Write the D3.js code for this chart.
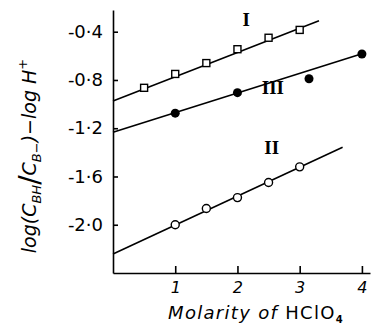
<!DOCTYPE html>
<html>
<head>
<meta charset="utf-8">
<script src="https://cdn.jsdelivr.net/npm/d3@7"></script>
<style>
  body { margin: 0; background: #fff; }
  svg { display: block; }
  .axis path, .axis line { stroke: #000; stroke-width: 1.6px; }
  .axis text { font-family: "DejaVu Sans", sans-serif; font-size: 18px; fill: #000; }
  .xax text { font-style: italic; font-size: 16px; }
</style>
</head>
<body>
<script>
// series I (open squares)
const molI = [0.5, 1, 1.5, 2, 2.5, 3];
const valI = [-0.865, -0.75, -0.66, -0.545, -0.45, -0.385];
// series II (open circles)
const molII = [1, 1.5, 2, 2.5, 3];
const valII = [-2.0, -1.865, -1.775, -1.65, -1.52];
// series III (filled circles)
const molIII = [1, 2, 3.15, 4];
const valIII = [-1.075, -0.905, -0.79, -0.585];

// straight fitted lines: [start, end] as [molarity, value]
const fitI = [[0, -0.975], [3.31, -0.31]];
const fitII = [[0, -2.242], [3.69, -1.358]];
const fitIII = [[0, -1.233], [4, -0.583]];

const xTicks = [1, 2, 3, 4];
const yTicks = [-0.4, -0.8, -1.2, -1.6, -2.0];

const width = 372, height = 328;

const x = d3.scaleLinear().domain([0, 4.13]).range([113, 370]);
const y = d3.scaleLinear().domain([-2.4, -0.22]).range([273, 10]);

const svg = d3.select("body").append("svg")
  .attr("width", width)
  .attr("height", height);

// axes, ticks point inwards
svg.append("g")
  .attr("class", "axis yax")
  .attr("transform", "translate(" + x(0) + ",0)")
  .call(d3.axisLeft(y).tickValues(yTicks).tickSizeInner(-5).tickSizeOuter(0).tickPadding(10)
    .tickFormat(d => d.toFixed(1).replace(".", "\u00b7")));

svg.append("g")
  .attr("class", "axis xax")
  .attr("transform", "translate(0," + y(-2.4) + ")")
  .call(d3.axisBottom(x).tickValues(xTicks).tickSizeInner(-7).tickSizeOuter(0).tickPadding(9)
    .tickFormat(d3.format("d")));

const line = d3.line().x(d => x(d[0])).y(d => y(d[1]));

[fitI, fitII, fitIII].forEach(f => {
  svg.append("path")
    .attr("d", line(f))
    .attr("fill", "none")
    .attr("stroke", "#000")
    .attr("stroke-width", 1.6);
});

// markers
svg.selectAll("rect.sI")
  .data(d3.zip(molI, valI))
  .enter().append("rect")
  .attr("x", d => x(d[0]) - 3.5)
  .attr("y", d => y(d[1]) - 3.5)
  .attr("width", 7).attr("height", 7)
  .attr("fill", "#fff").attr("stroke", "#000").attr("stroke-width", 1.4);

svg.selectAll("circle.sII")
  .data(d3.zip(molII, valII))
  .enter().append("circle")
  .attr("cx", d => x(d[0]))
  .attr("cy", d => y(d[1]))
  .attr("r", 4)
  .attr("fill", "#fff").attr("stroke", "#000").attr("stroke-width", 1.4);

svg.selectAll("circle.sIII")
  .data(d3.zip(molIII, valIII))
  .enter().append("circle")
  .attr("cx", d => x(d[0]))
  .attr("cy", d => y(d[1]))
  .attr("r", 4.5)
  .attr("fill", "#000");

// series labels
const lab = (t, px, py) => svg.append("text")
  .attr("x", px).attr("y", py)
  .attr("text-anchor", "middle")
  .attr("font-family", "Liberation Serif, serif")
  .attr("font-size", 19)
  .attr("font-weight", "bold")
  .text(t);
lab("I", x(2.14), y(-0.355));
lab("III", x(2.57), y(-0.92));
lab("II", x(2.55), y(-1.41));

// x axis title
const xt = svg.append("text")
  .attr("x", 256).attr("y", 319)
  .attr("text-anchor", "middle")
  .attr("font-family", "DejaVu Sans, sans-serif")
  .attr("font-size", 18)
  .attr("letter-spacing", 1.3);
xt.append("tspan").attr("font-style", "italic").text("Molarity of ");
xt.append("tspan").text("HClO");
xt.append("tspan").attr("font-size", 10).attr("dy", 4).attr("font-weight", "bold").text("4");

// y axis title
const yt = svg.append("text")
  .attr("transform", "translate(36,156) rotate(-90)")
  .attr("text-anchor", "middle")
  .attr("font-family", "DejaVu Sans, sans-serif")
  .attr("font-style", "italic")
  .attr("font-size", 19);
yt.append("tspan").text("log(C");
yt.append("tspan").attr("font-size", 13).attr("dy", 5).text("BH");
yt.append("tspan").attr("font-size", 28).attr("dy", -2).attr("font-style", "normal").text("/");
yt.append("tspan").attr("dy", -3).text("C");
yt.append("tspan").attr("font-size", 13).attr("dy", 5).text("B\u2212");
yt.append("tspan").attr("dy", -5).text(")\u2212log H");
yt.append("tspan").attr("font-size", 13).attr("dy", -9).text("+");
</script>
</body>
</html>
